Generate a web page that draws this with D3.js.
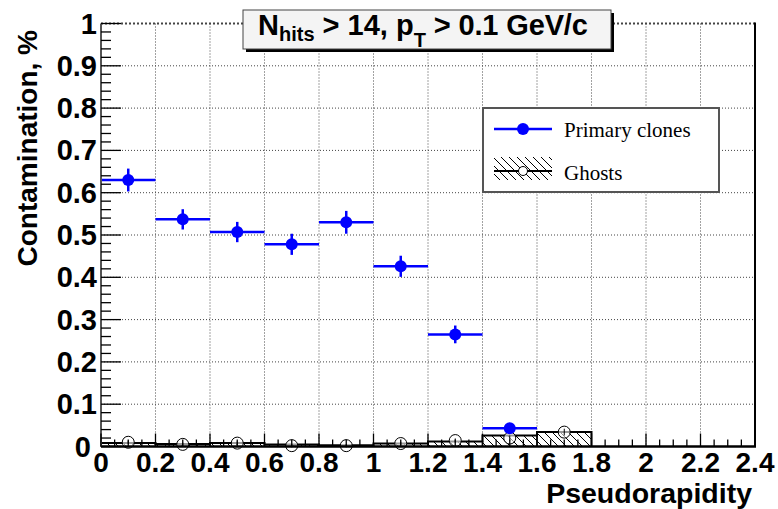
<!DOCTYPE html>
<html><head><meta charset="utf-8">
<script src="https://cdn.jsdelivr.net/npm/d3@7"></script>
<style>body{margin:0;background:#fff}svg{display:block}</style>
</head><body>
<svg id="c" width="778" height="509"></svg>
<script>
// ---- data ----
const binCenters = [0.1, 0.3, 0.5, 0.7, 0.9, 1.1, 1.3, 1.5, 1.7];
const binHalf = 0.1;
const primaryVals = [0.630, 0.537, 0.507, 0.478, 0.530, 0.426, 0.265, 0.043];
const primaryErr  = [0.027, 0.024, 0.024, 0.025, 0.027, 0.025, 0.021, 0.012];
const ghostHist   = [0.0085, 0.006, 0.008, 0.005, 0.003, 0.007, 0.012, 0.026, 0.034];
const ghostPts    = [0.010, 0.005, 0.008, 0.002, 0.002, 0.007, 0.014, 0.020, 0.034];
const ghostErr    = [0.004, 0.004, 0.004, 0.004, 0.004, 0.004, 0.005, 0.006, 0.008];
const xTicks = [0, 0.2, 0.4, 0.6, 0.8, 1, 1.2, 1.4, 1.6, 1.8, 2, 2.2, 2.4];
const yTicks = [0, 0.1, 0.2, 0.3, 0.4, 0.5, 0.6, 0.7, 0.8, 0.9, 1];
const titleParts = ["N", "hits", " > 14, p", "T", " > 0.1 GeV/c"];
const legendLabels = ["Primary clones", "Ghosts"];
const xTitle = "Pseudorapidity";
const yTitle = "Contamination, %";

// ---- layout ----
const L = 101, R = 755, T = 23.5, B = 446.5;
const x = d3.scaleLinear().domain([0, 2.4]).range([L, R]);
const y = d3.scaleLinear().domain([0, 1]).range([B, T]);
const svg = d3.select("#c");
const fmt = d => (d === 0 ? "0" : d === 1 ? "1" : d === 2 ? "2" : String(+d.toFixed(1)));

const defs = svg.append("defs");
const pat = defs.append("pattern").attr("id", "hatch").attr("patternUnits", "userSpaceOnUse")
  .attr("width", 8).attr("height", 8);
pat.append("path").attr("d", "M-2,-2 L10,10 M-2,6 L2,10 M6,-2 L10,2")
  .attr("stroke", "#000").attr("stroke-width", 1);

// grid
const g = svg.append("g");
g.selectAll(".gx").data(xTicks.slice(1, -1)).join("line")
  .attr("x1", d => x(d)).attr("x2", d => x(d)).attr("y1", T).attr("y2", B)
  .attr("stroke", "#444").attr("stroke-width", 1).attr("stroke-dasharray", "1,2");
g.selectAll(".gy").data(yTicks.slice(1)).join("line")
  .attr("x1", L).attr("x2", R).attr("y1", d => y(d)).attr("y2", d => y(d))
  .attr("stroke", "#444").attr("stroke-width", d => d === 1 ? 2 : 1).attr("stroke-dasharray", d => d === 1 ? "2,2" : "1,2");

// ghosts histogram
const stepPts = [];
ghostHist.forEach((v, i) => {
  stepPts.push([x(binCenters[i] - binHalf), y(v)]);
  stepPts.push([x(binCenters[i] + binHalf), y(v)]);
});
const areaPath = "M" + x(0) + "," + y(0) + " L" + stepPts.map(p => p.join(",")).join(" L") +
  " L" + x(binCenters[ghostHist.length - 1] + binHalf) + "," + y(0) + " Z";
svg.append("path").attr("d", areaPath).attr("fill", "url(#hatch)").attr("stroke", "none");
const linePath = "M" + x(0) + "," + y(0) + " L" + stepPts.map(p => p.join(",")).join(" L") +
  " L" + x(binCenters[ghostHist.length - 1] + binHalf) + "," + y(0);
svg.append("path").attr("d", linePath).attr("fill", "none").attr("stroke", "#000").attr("stroke-width", 2);
ghostHist.forEach((v, i) => {
  if (i === 0) return;
  const xe = x(binCenters[i] - binHalf);
  svg.append("line").attr("x1", xe).attr("x2", xe).attr("y1", y(0)).attr("y2", y(Math.min(v, ghostHist[i - 1])))
    .attr("stroke", "#000").attr("stroke-width", 1.5);
});

// ghost points
const gp = svg.append("g");
ghostPts.forEach((v, i) => {
  gp.append("circle").attr("cx", x(binCenters[i])).attr("cy", y(v)).attr("r", 6)
    .attr("fill", "#fff").attr("fill-opacity", 0.6).attr("stroke", "#000").attr("stroke-width", 1);
  gp.append("line").attr("x1", x(binCenters[i])).attr("x2", x(binCenters[i]))
    .attr("y1", y(v - ghostErr[i])).attr("y2", y(v + ghostErr[i])).attr("stroke", "#000").attr("stroke-width", 1);
});

// primary clones
const pc = svg.append("g");
primaryVals.forEach((v, i) => {
  const cx = binCenters[i];
  pc.append("line").attr("x1", x(cx - binHalf)).attr("x2", x(cx + binHalf)).attr("y1", y(v)).attr("y2", y(v))
    .attr("stroke", "#0000ff").attr("stroke-width", 2.5);
  pc.append("line").attr("x1", x(cx)).attr("x2", x(cx)).attr("y1", y(v - primaryErr[i])).attr("y2", y(v + primaryErr[i]))
    .attr("stroke", "#0000ff").attr("stroke-width", 2.5);
  pc.append("circle").attr("cx", x(cx)).attr("cy", y(v)).attr("r", 6).attr("fill", "#0000ff");
});

// axes frame
svg.append("line").attr("x1", L).attr("x2", R + 1).attr("y1", B).attr("y2", B).attr("stroke", "#000").attr("stroke-width", 2.5);
svg.append("line").attr("x1", L).attr("x2", L).attr("y1", T).attr("y2", B).attr("stroke", "#555").attr("stroke-width", 2);
svg.append("line").attr("x1", R).attr("x2", R).attr("y1", T - 1).attr("y2", B).attr("stroke", "#000").attr("stroke-width", 2);

// ticks (inside)
const xMinor = d3.range(0, 2.4001, 0.05);
svg.append("g").selectAll("line").data(xMinor).join("line")
  .attr("x1", d => x(d)).attr("x2", d => x(d)).attr("y1", B)
  .attr("y2", d => Math.abs(d / 0.2 - Math.round(d / 0.2)) < 1e-6 ? B - 13 : B - 7)
  .attr("stroke", "#000").attr("stroke-width", 1.3);
const yMinor = d3.range(0, 1.0001, 0.02);
svg.append("g").selectAll("line").data(yMinor).join("line")
  .attr("y1", d => y(d)).attr("y2", d => y(d)).attr("x1", L)
  .attr("x2", d => Math.abs(d / 0.1 - Math.round(d / 0.1)) < 1e-6 ? L + 20 : L + 10)
  .attr("stroke", "#000").attr("stroke-width", 1.3);

// tick labels
const tf = "'Liberation Sans', Arial, Helvetica, sans-serif";
svg.append("g").selectAll("text").data(xTicks).join("text")
  .attr("x", d => x(d)).attr("y", 472).attr("text-anchor", "middle")
  .attr("font-family", tf).attr("font-weight", "bold").attr("font-size", 28).text(fmt);
svg.append("g").selectAll("text").data(yTicks).join("text")
  .attr("x", d => d === 0 ? 91 : 97).attr("y", d => y(d) + 10).attr("text-anchor", "end")
  .attr("font-family", tf).attr("font-weight", "bold").attr("font-size", 29).text(fmt);

// axis titles
svg.append("text").attr("x", 752).attr("y", 503).attr("text-anchor", "end")
  .attr("font-family", tf).attr("font-weight", "bold").attr("font-size", 28.5).text(xTitle);
svg.append("text").attr("transform", "translate(37,30) rotate(-90)").attr("text-anchor", "end")
  .attr("font-family", tf).attr("font-weight", "bold").attr("font-size", 28).text(yTitle);

// title box
svg.append("rect").attr("x", 246).attr("y", 13).attr("width", 368).attr("height", 39).attr("fill", "#000");
svg.append("rect").attr("x", 243).attr("y", 10).attr("width", 368).attr("height", 39)
  .attr("fill", "#f4f4f4").attr("stroke", "#444").attr("stroke-width", 1);
const tt = svg.append("text").attr("x", 258).attr("y", 35).attr("font-family", tf).attr("font-weight", "bold").attr("font-size", 29);
tt.append("tspan").text(titleParts[0]);
tt.append("tspan").attr("font-size", 20).attr("dy", 6).text(titleParts[1]);
tt.append("tspan").attr("dy", -6).text(titleParts[2]);
tt.append("tspan").attr("font-size", 20).attr("dy", 12).text(titleParts[3]);
tt.append("tspan").attr("dy", -12).attr("textLength", 162).attr("lengthAdjust", "spacing").text(titleParts[4]);

// legend
const lg = svg.append("g");
lg.append("rect").attr("x", 483).attr("y", 108).attr("width", 236).attr("height", 84)
  .attr("fill", "#fff").attr("stroke", "#555").attr("stroke-width", 2);
lg.append("line").attr("x1", 494).attr("x2", 552).attr("y1", 129).attr("y2", 129).attr("stroke", "#0000ff").attr("stroke-width", 2.5);
lg.append("circle").attr("cx", 523).attr("cy", 129).attr("r", 6).attr("fill", "#0000ff");
lg.append("rect").attr("x", 494).attr("y", 157).attr("width", 58).attr("height", 23).attr("fill", "url(#hatch)");
lg.append("line").attr("x1", 494).attr("x2", 552).attr("y1", 171).attr("y2", 171).attr("stroke", "#000").attr("stroke-width", 2);
lg.append("circle").attr("cx", 523).attr("cy", 171).attr("r", 4.5).attr("fill", "#fff").attr("stroke", "#000").attr("stroke-width", 1);
const lf = "'Liberation Serif', 'Times New Roman', serif";
lg.append("text").attr("x", 564).attr("y", 137).attr("font-family", lf).attr("font-size", 21).text(legendLabels[0]);
lg.append("text").attr("x", 564).attr("y", 180).attr("font-family", lf).attr("font-size", 21).text(legendLabels[1]);
</script>
</body></html>
